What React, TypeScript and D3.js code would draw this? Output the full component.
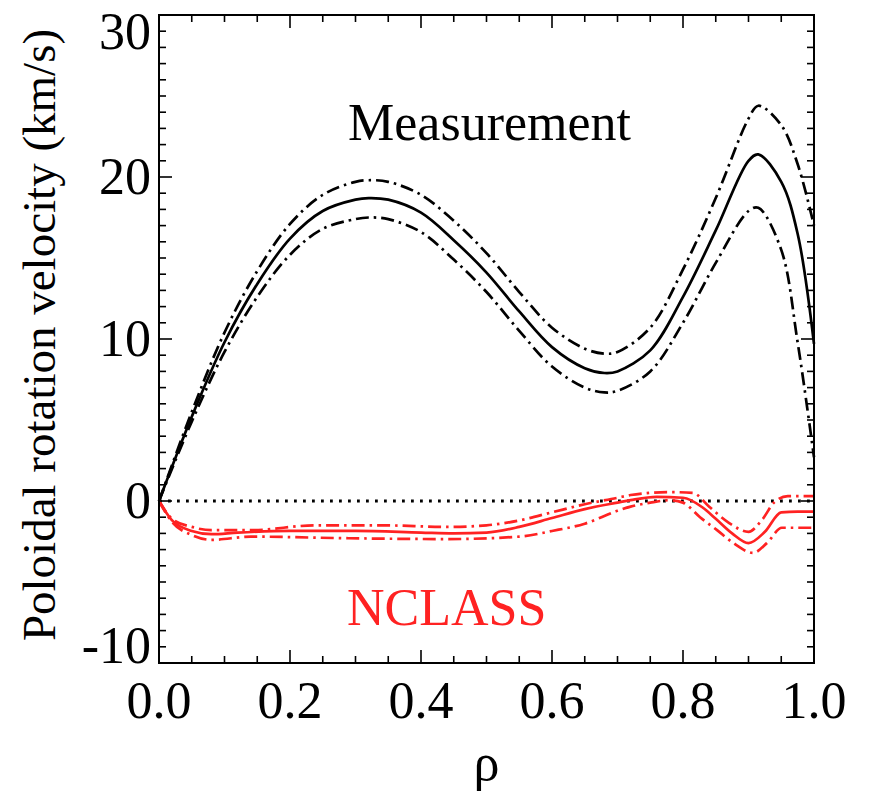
import React from "react";
import * as d3 from "d3";

// ρ grid and values for measurement (km/s)
const measRho = [0, 0.05, 0.1, 0.15, 0.2, 0.25, 0.3, 0.32, 0.35, 0.4, 0.45, 0.5, 0.55, 0.6, 0.65, 0.68, 0.7, 0.75, 0.8, 0.85, 0.9, 0.915, 0.95, 0.975, 1.0];
const measMid = [0, 5.2, 9.8, 13.4, 16.2, 17.9, 18.6, 18.7, 18.6, 17.8, 16.1, 14.1, 11.7, 9.5, 8.2, 7.9, 8.0, 9.3, 12.6, 16.7, 21.0, 21.4, 19.7, 16.5, 9.7];
const measUpper = [0, 5.5, 10.4, 14.2, 17.1, 18.9, 19.7, 19.8, 19.7, 18.9, 17.3, 15.3, 12.9, 10.7, 9.4, 9.1, 9.2, 10.7, 14.3, 18.7, 23.6, 24.4, 23.2, 20.8, 17.0];
const measLower = [0, 4.9, 9.2, 12.6, 15.2, 16.8, 17.4, 17.5, 17.4, 16.6, 14.9, 12.9, 10.5, 8.3, 7.0, 6.7, 6.8, 8.0, 11.0, 14.7, 17.9, 18.1, 15.5, 9.8, 2.7];

// NCLASS prediction
const ncMidRho = [0, 0.02, 0.05, 0.08, 0.12, 0.2, 0.3, 0.4, 0.45, 0.5, 0.55, 0.6, 0.65, 0.7, 0.72, 0.76, 0.8, 0.83, 0.85, 0.875, 0.9, 0.925, 0.95, 0.975, 1.0];
const ncMid = [0, -1.2, -1.85, -2.05, -1.95, -1.85, -1.85, -1.95, -2.0, -1.95, -1.6, -1.05, -0.5, -0.1, 0.05, 0.25, 0.2, -0.4, -1.1, -2.0, -2.6, -1.9, -0.7, -0.65, -0.65];
const ncUpperRho = [0, 0.02, 0.05, 0.08, 0.14, 0.24, 0.34, 0.44, 0.5, 0.55, 0.6, 0.65, 0.7, 0.72, 0.78, 0.815, 0.84, 0.87, 0.9, 0.92, 0.94, 0.96, 1.0];
const ncUpper = [0, -1.1, -1.6, -1.8, -1.8, -1.5, -1.5, -1.6, -1.5, -1.2, -0.7, -0.2, 0.2, 0.37, 0.55, 0.5, -0.35, -1.35, -1.9, -1.2, -0.05, 0.3, 0.3];
const ncLowerRho = [0, 0.02, 0.05, 0.08, 0.14, 0.29, 0.44, 0.55, 0.6, 0.65, 0.7, 0.72, 0.75, 0.78, 0.8, 0.826, 0.852, 0.877, 0.907, 0.928, 0.951, 0.975, 1.0];
const ncLower = [0, -1.3, -2.1, -2.4, -2.2, -2.3, -2.35, -2.2, -1.85, -1.4, -0.6, -0.35, -0.1, 0.05, -0.1, -1.0, -1.8, -2.6, -3.2, -2.6, -1.65, -1.65, -1.65];

const xTicks = [0, 0.2, 0.4, 0.6, 0.8, 1.0];
const yTicks = [-10, 0, 10, 20, 30];

const W = 873, H = 800;
const L = 159, R = 814, T = 15, B = 663;
const RED = "#ff2222";
const FONT = "'Liberation Serif', 'Times New Roman', serif";
const DASHDOT = "13,5,2.5,5";

export default function App() {
  const x = d3.scaleLinear().domain([0, 1]).range([L, R]);
  const y = d3.scaleLinear().domain([-10, 30]).range([B, T]);
  const smooth = d3
    .line<[number, number]>()
    .x((d) => x(d[0]))
    .y((d) => y(d[1]))
    .curve(d3.curveCatmullRom.alpha(0.5));
  const mono = d3
    .line<[number, number]>()
    .x((d) => x(d[0]))
    .y((d) => y(d[1]))
    .curve(d3.curveMonotoneX);
  const zip = (a: number[], b: number[]) => a.map((v, i) => [v, b[i]] as [number, number]);

  const xMinor = d3.range(0, 1.0001, 0.05);
  const yMinor = d3.range(-10, 30.001, 1);
  const isMajorX = (v: number) => Math.abs(v * 5 - Math.round(v * 5)) < 1e-6;
  const isMajorY = (v: number) => Math.abs(v / 10 - Math.round(v / 10)) < 1e-6;

  const series = [
    { d: zip(measRho, measUpper), c: "#000", dash: DASHDOT, g: smooth },
    { d: zip(measRho, measLower), c: "#000", dash: DASHDOT, g: smooth },
    { d: zip(measRho, measMid), c: "#000", dash: undefined, g: smooth },
    { d: zip(ncUpperRho, ncUpper), c: RED, dash: DASHDOT, g: mono },
    { d: zip(ncLowerRho, ncLower), c: RED, dash: DASHDOT, g: mono },
    { d: zip(ncMidRho, ncMid), c: RED, dash: undefined, g: mono },
  ];

  return (
    <svg width={W} height={H} style={{ position: "absolute", left: 0, top: 0, background: "#fff" }} fontFamily={FONT}>
      <rect x={0} y={0} width={W} height={H} fill="#fff" />
      {/* zero line */}
      <line x1={L} x2={R} y1={y(0)} y2={y(0)} stroke="#000" strokeWidth={2.8} strokeDasharray="2.8,6.2" />
      {series.map((s, i) => (
        <path key={i} d={s.g(s.d) || ""} fill="none" stroke={s.c} strokeWidth={2.7} strokeDasharray={s.dash} />
      ))}
      {/* frame */}
      <rect x={L} y={T} width={R - L} height={B - T} fill="none" stroke="#000" strokeWidth={2} />
      {xMinor.map((v, i) => {
        const len = isMajorX(v) ? 13 : 7;
        return (
          <g key={"xt" + i} stroke="#000" strokeWidth={1.6}>
            <line x1={x(v)} x2={x(v)} y1={B} y2={B - len} />
            <line x1={x(v)} x2={x(v)} y1={T} y2={T + len} />
          </g>
        );
      })}
      {yMinor.map((v, i) => {
        const len = isMajorY(v) ? 13 : 7;
        return (
          <g key={"yt" + i} stroke="#000" strokeWidth={1.6}>
            <line x1={L} x2={L + len} y1={y(v)} y2={y(v)} />
            <line x1={R} x2={R - len} y1={y(v)} y2={y(v)} />
          </g>
        );
      })}
      {xTicks.map((v) => (
        <text key={"xl" + v} x={x(v)} y={718} fontSize={52} textAnchor="middle" fontFamily={FONT}>
          {v.toFixed(1)}
        </text>
      ))}
      {yTicks.map((v) => (
        <text key={"yl" + v} x={151} y={Math.min(Math.max(y(v) + 17, 49), 663)} fontSize={52} textAnchor="end" fontFamily={FONT}>
          {String(v)}
        </text>
      ))}
      <text x={(L + R) / 2} y={780} fontSize={52} textAnchor="middle" fontFamily={FONT}>ρ</text>
      <text transform={`translate(55,335) rotate(-90)`} fontSize={47} textAnchor="middle" fontFamily={FONT}>
        Poloidal rotation velocity (km/s)
      </text>
      <text x={348} y={140} fontSize={52} fontFamily={FONT}>Measurement</text>
      <text x={347} y={625} fontSize={52} fill={RED} fontFamily={FONT}>NCLASS</text>
    </svg>
  );
}
